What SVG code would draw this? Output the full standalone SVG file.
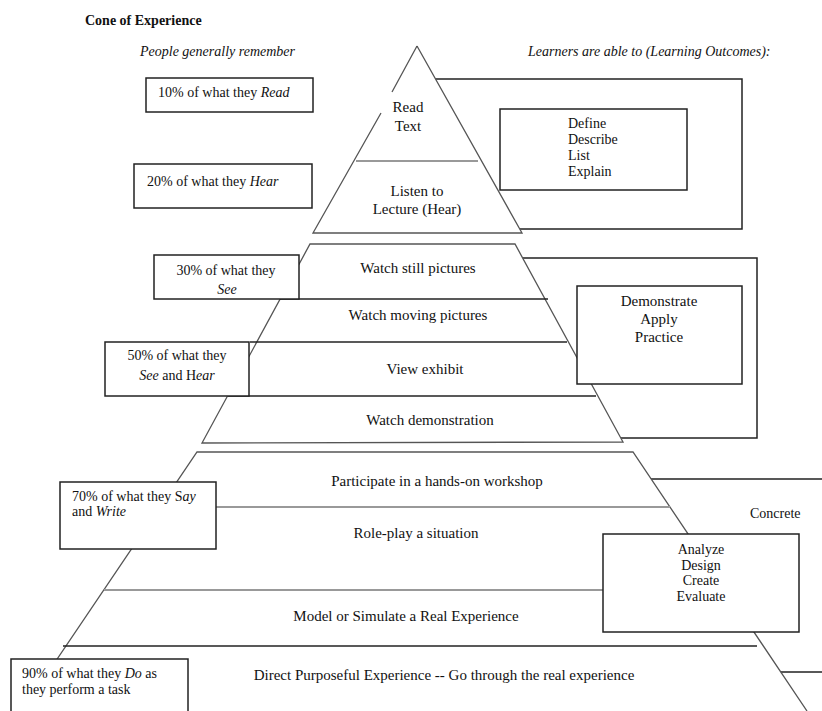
<svg xmlns="http://www.w3.org/2000/svg" width="822" height="711" viewBox="0 0 822 711">
<style>
text{font-family:"Liberation Serif","Times New Roman",serif;fill:#111;}
.t14{font-size:14px;}
.t15{font-size:15px;}
.c{text-anchor:middle;}
.i{font-style:italic;}
.b{font-weight:bold;}
.box{fill:#fff;stroke:#222;stroke-width:1.5;}
.obox{fill:none;stroke:#222;stroke-width:1.5;}
.fill{fill:#fff;stroke:none;}
.edge{fill:none;stroke:#555;stroke-width:1.3;}
.div{stroke:#999;stroke-width:2;}
.divk{stroke:#222;stroke-width:1.3;}
</style>
<rect width="822" height="711" fill="#fff"/>

<text class="t14 b" x="85" y="25">Cone of Experience</text>
<text class="t14 i" x="140" y="56">People generally remember</text>
<text class="t14 i" x="528" y="56">Learners are able to (Learning Outcomes):</text>

<!-- outer outcome frames (behind cone) -->
<g id="frame1"><rect class="obox" x="420" y="79" width="322" height="150"/></g>
<g id="frame2"><rect class="obox" x="505" y="258" width="252" height="180"/></g>
<g id="frame3"><rect class="obox" x="640" y="479" width="200" height="193"/></g>

<g id="connectors">
<!-- top triangle -->
<g id="cone-top">
<polygon class="fill" points="417,46 313,233 522,233"/>
<path class="edge" d="M417,46 L392,92 M381,113 L313,233 L522,233 L417,46"/>
<line class="div" x1="356" y1="161" x2="478" y2="161"/>
</g>
<!-- middle trapezoid -->
<g id="cone-mid">
<polygon class="fill" points="310,244 515,244 623,442 202,443"/>
<path class="edge" d="M310,244 L515,244 L623,442 L202,443 Z"/>
<line class="divk" x1="280" y1="299" x2="548" y2="299"/>
<line class="divk" x1="250" y1="342" x2="567" y2="342"/>
<line class="divk" x1="228" y1="396" x2="596" y2="396"/>
</g>
<!-- bottom trapezoid -->
<g id="cone-bottom">
<polygon class="fill" points="197,452 633,452 807,711 22,711"/>
<path class="edge" d="M22,711 L197,452 L633,452 L807,711"/>
<line class="div" x1="216" y1="507" x2="670" y2="507"/>
<line class="div" x1="104" y1="590" x2="603" y2="590"/>
<line class="divk" x1="63" y1="646" x2="757" y2="646"/>
</g>
</g>

<!-- cone labels -->
<g id="read-text"><text class="t15 c" x="408" y="112">Read</text><text class="t15 c" x="408" y="131">Text</text></g>
<g id="listen"><text class="t15 c" x="417" y="196">Listen to</text><text class="t15 c" x="417" y="214">Lecture (Hear)</text></g>
<g id="still"><text class="t15 c" x="418" y="273">Watch still pictures</text></g>
<g id="moving"><text class="t15 c" x="418" y="320">Watch moving pictures</text></g>
<g id="exhibit"><text class="t15 c" x="425" y="374">View exhibit</text></g>
<g id="demo"><text class="t15 c" x="430" y="425">Watch demonstration</text></g>
<g id="workshop"><text class="t15 c" x="437" y="486">Participate in a hands-on workshop</text></g>
<g id="roleplay"><text class="t15 c" x="416" y="538">Role-play a situation</text></g>
<g id="model"><text class="t15 c" x="406" y="621">Model or Simulate a Real Experience</text></g>
<g id="direct"><text class="t15 c" x="444" y="680">Direct Purposeful Experience -- Go through the real experience</text></g>

<!-- remember boxes -->
<g id="r10"><rect class="box" x="146" y="78" width="167" height="34"/>
<text class="t14" x="158" y="97">10% of what they <tspan class="i">Read</tspan></text></g>
<g id="r20"><rect class="box" x="134" y="164" width="178" height="44"/>
<text class="t14" x="147" y="186">20% of what they  <tspan class="i">Hear</tspan></text></g>
<g id="r30"><rect class="box" x="154" y="255" width="145" height="44"/>
<text class="t14 c" x="226" y="275">30% of what they</text>
<text class="t14 c i" x="227" y="294">See</text></g>
<g id="r50"><rect class="box" x="105" y="342" width="144" height="54"/>
<text class="t14 c" x="177" y="360">50% of what they</text>
<text class="t14 c" x="177" y="380"><tspan class="i">See</tspan> and H<tspan class="i">ear</tspan></text></g>
<g id="r70"><rect class="box" x="60" y="482" width="156" height="67"/>
<text class="t14" x="72" y="501">70% of what they S<tspan class="i">ay</tspan></text>
<text class="t14" x="72" y="516">and <tspan class="i">Write</tspan></text></g>
<g id="r90"><rect class="box" x="11" y="659" width="177" height="70"/>
<text class="t14" x="22" y="678">90% of what they <tspan class="i">Do</tspan> as</text>
<text class="t14" x="22" y="694">they perform a task</text></g>

<!-- outcome boxes -->
<g id="o1"><rect class="box" x="500" y="109" width="187" height="81"/>
<text class="t14" x="568" y="128">Define</text>
<text class="t14" x="568" y="144">Describe</text>
<text class="t14" x="568" y="160">List</text>
<text class="t14" x="568" y="176">Explain</text></g>
<g id="o2"><rect class="box" x="577" y="286" width="165" height="98"/>
<text class="t15 c" x="659" y="306">Demonstrate</text>
<text class="t15 c" x="659" y="324">Apply</text>
<text class="t15 c" x="659" y="342">Practice</text></g>
<g id="concrete"><text class="t14" x="750" y="518">Concrete</text></g>
<g id="o3"><rect class="box" x="603" y="534" width="196" height="98"/>
<text class="t14 c" x="701" y="554">Analyze</text>
<text class="t14 c" x="701" y="570">Design</text>
<text class="t14 c" x="701" y="585">Create</text>
<text class="t14 c" x="701" y="601">Evaluate</text></g>
</svg>
